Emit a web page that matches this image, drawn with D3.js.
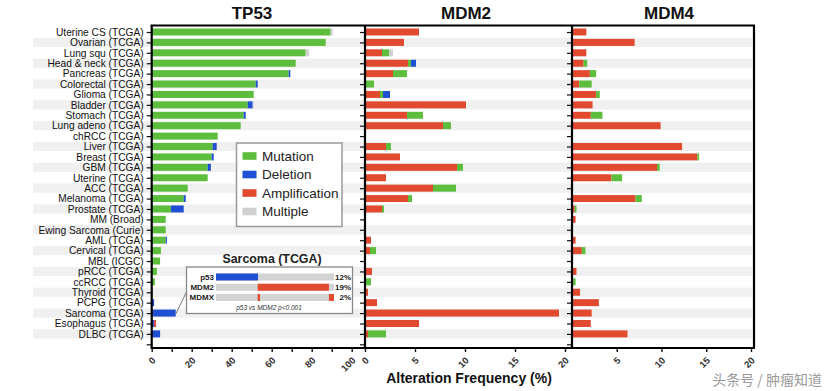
<!DOCTYPE html>
<html><head><meta charset="utf-8">
<script src="https://cdn.jsdelivr.net/npm/d3@7/dist/d3.min.js"></script>
<style>
html,body{margin:0;padding:0;background:#fff;}
svg{display:block;font-family:"Liberation Sans",Arial,sans-serif;}
</style></head>
<body><svg id="c" width="829" height="391"></svg>
<script>
// ---------------- DATA ----------------
const categories = ["Uterine CS (TCGA)","Ovarian (TCGA)","Lung squ (TCGA)","Head & neck (TCGA)","Pancreas (TCGA)",
 "Colorectal (TCGA)","Glioma (TCGA)","Bladder (TCGA)","Stomach (TCGA)","Lung adeno (TCGA)","chRCC (TCGA)",
 "Liver (TCGA)","Breast (TCGA)","GBM (TCGA)","Uterine (TCGA)","ACC (TCGA)","Melanoma (TCGA)","Prostate (TCGA)",
 "MM (Broad)","Ewing Sarcoma (Curie)","AML (TCGA)","Cervical (TCGA)","MBL (ICGC)","pRCC (TCGA)","ccRCC (TCGA)",
 "Thyroid (TCGA)","PCPG (TCGA)","Sarcoma (TCGA)","Esophagus (TCGA)","DLBC (TCGA)"];
const alterationTypes = ["Mutation","Deletion","Amplification","Multiple"];
const genes = ["TP53","MDM2","MDM4"];

const tp53Mutation      = [89.5,87,77,72,68.5,52,51,48,46,44.5,33,30.5,30,28,28,18,16,9.6,7,7,7,4.6,4.2,2.6,1.6,0.4,0,0,0,0];
const tp53Deletion      = [0,0,0,0,0.8,1,0,2.5,1,0,0,2,1,1.6,0,0,1,6.4,0,0,0.6,0,0,0,0,0,1.2,12,1.2,4.2];
const tp53Amplification = [0,0,0,0,0,0,0,0,0,0,0,0,0,0,0,0,0,0,0,0,0,0,0,0,0,0,0,0,1.0,0];
const tp53Multiple      = [1,0,1.7,0,0,0,0,0.5,0,0,0,0,0,0,0,0,0,0,0,0,0,0,0,0,0,0,0,0,0,0];

const mdm2Amplification = [5.4,3.9,1.7,4.3,2.8,0,1.5,10.1,4.2,7.8,0,2.1,3.5,9.2,2.1,6.8,4.3,1.7,0,0,0.6,0.5,0,0.7,0,0.3,1.2,19.4,5.4,0.3];
const mdm2Mutation      = [0,0,0.7,0.3,1.4,0.9,0.3,0,1.6,0.8,0,0.5,0,0.6,0,2.3,0.4,0.2,0,0,0,0.6,0,0,0.6,0,0,0,0,1.8];
const mdm2Deletion      = [0,0,0,0.5,0,0,0.7,0,0,0,0,0,0,0,0,0,0,0,0,0,0,0,0,0,0,0,0,0,0,0];
const mdm2Multiple      = [0,0,0.4,0,0,0,0,0,0,0,0,0,0,0,0,0,0,0,0,0,0,0,0,0,0,0,0,0,0,0];

const mdm4Amplification = [1.6,7.0,1.6,1.3,2.0,0.8,2.7,2.3,2.1,9.9,0,12.3,14.0,9.5,4.4,0,7.1,0.3,0.4,0,0.4,1.1,0,0.5,0,0.9,3.0,2.2,2.1,6.2];
const mdm4Mutation      = [0,0,0,0.4,0.7,1.4,0.4,0,1.3,0,0,0,0.2,0.3,1.2,0,0.7,0.2,0,0,0,0.4,0,0,0.4,0,0,0,0,0];
const mdm4Deletion      = new Array(30).fill(0);
const mdm4Multiple      = new Array(30).fill(0);

const tp53Ticks = [0,10,20,30,40,50,60,70,80,90,100];
const tp53TickLabels = [0,20,40,60,80,100];
const mdm2Ticks = [0,5,10,15,20];
const mdm4Ticks = [5,10,15,20];
const xAxisTitle = "Alteration Frequency (%)";

// inset (Sarcoma TCGA) — segment positions as fraction of samples
const insetGenes = ["p53","MDM2","MDMX"];
const insetPercent = ["12%","19%","2%"];
const insetSegments = [
  [{type:"Deletion",start:0,end:0.356}],
  [{type:"Amplification",start:0.353,end:0.957}],
  [{type:"Amplification",start:0.353,end:0.373},{type:"Amplification",start:0.957,end:1.0}]
];
const insetTitle = "Sarcoma (TCGA)";
const insetNote = "p53 vs MDM2 p<0.001";
const watermark = "头条号 / 肿瘤知道";

// ---------------- STYLE ----------------
const colors = {Mutation:"#5dbd3c",Deletion:"#1f4fd2",Amplification:"#e24a30",Multiple:"#d0d0d0"};
const svg = d3.select("#c");
const yTop = 32, yBot = 344.3, frameTop = 25.5, frameBot = 348;
const rowKeys = categories.concat([""]);
const y = d3.scalePoint().domain(rowKeys).range([yTop,yBot]);
const barH = 7;

// stripes
svg.append("g").selectAll("rect")
  .data(categories.filter((d,i)=>i%2===1))
  .join("rect")
  .attr("x",33).attr("width",752-33)
  .attr("y",d=>y(d)-4.6).attr("height",9.2)
  .attr("fill","#f0f0f0");

const panels = [
  {gene:"TP53", r:[151.7,351.7], dom:[0,100], ticks:tp53Ticks, labelTicks:tp53TickLabels,
   order:["Mutation","Deletion","Amplification","Multiple"],
   data:{Mutation:tp53Mutation,Deletion:tp53Deletion,Amplification:tp53Amplification,Multiple:tp53Multiple}, titleX:252},
  {gene:"MDM2", r:[365,565], dom:[0,20], ticks:mdm2Ticks, labelTicks:mdm2Ticks,
   order:["Amplification","Mutation","Deletion","Multiple"],
   data:{Mutation:mdm2Mutation,Deletion:mdm2Deletion,Amplification:mdm2Amplification,Multiple:mdm2Multiple}, titleX:466},
  {gene:"MDM4", r:[572,751], dom:[0,20], ticks:mdm4Ticks, labelTicks:mdm4Ticks,
   order:["Amplification","Mutation","Deletion","Multiple"],
   data:{Mutation:mdm4Mutation,Deletion:mdm4Deletion,Amplification:mdm4Amplification,Multiple:mdm4Multiple}, titleX:669}
];

panels.forEach((p,pi)=>{
  const x = d3.scaleLinear().domain(p.dom).range(p.r);
  const rows = categories.map((c,i)=>{const o={cat:c}; alterationTypes.forEach(t=>o[t]=p.data[t][i]); return o;});
  const stack = d3.stack().keys(p.order)(rows);
  const g = svg.append("g");
  stack.forEach(layer=>{
    g.append("g").attr("fill",colors[layer.key]).selectAll("rect")
      .data(layer.filter(d=>d[1]-d[0]>0))
      .join("rect")
      .attr("x",d=>x(d[0])).attr("width",d=>x(d[1])-x(d[0]))
      .attr("y",d=>y(d.data.cat)-barH/2).attr("height",barH);
  });
  // y axis
  const ya = d3.axisLeft(y).tickSize(5).tickSizeOuter(0).tickPadding(3)
    .tickFormat(d=> pi===0 ? d : "");
  const yg = svg.append("g").attr("transform",`translate(${p.r[0]},0)`).call(ya);
  yg.select(".domain").remove();
  yg.selectAll(".tick line").attr("stroke","#111").attr("stroke-width",1.2);
  yg.selectAll("text").attr("font-size","10.2px").attr("fill","#111")
    .attr("font-family","'Liberation Sans',Arial,sans-serif");
  svg.append("line").attr("x1",p.r[0]).attr("x2",p.r[0]).attr("y1",frameTop).attr("y2",frameBot)
    .attr("stroke","#000").attr("stroke-width",2.2);
  // x axis
  const xa = d3.axisBottom(x).tickValues(p.ticks).tickSize(4).tickSizeOuter(0)
    .tickFormat(d=> p.labelTicks.includes(d) ? d : "");
  const xg = svg.append("g").attr("transform",`translate(0,${frameBot})`).call(xa);
  xg.select(".domain").remove();
  xg.selectAll(".tick line").attr("stroke","#111").attr("stroke-width",1.4);
  xg.selectAll("text").attr("font-size","9.5px").attr("font-weight","bold").attr("fill","#333")
    .attr("font-family","'Liberation Sans',Arial,sans-serif")
    .attr("text-anchor","end").attr("y",0).attr("dy",0)
    .attr("transform","translate(4,13) rotate(-45)");
  // title
  svg.append("text").attr("x",p.titleX).attr("y",19).attr("text-anchor","middle")
    .attr("font-size","17px").attr("font-weight","bold").attr("fill","#111").text(p.gene);
});

// frame
svg.append("line").attr("x1",150.6).attr("x2",755).attr("y1",frameTop).attr("y2",frameTop).attr("stroke","#000").attr("stroke-width",2.2);
svg.append("line").attr("x1",150.6).attr("x2",755).attr("y1",frameBot).attr("y2",frameBot).attr("stroke","#000").attr("stroke-width",2.2);
svg.append("line").attr("x1",754).attr("x2",754).attr("y1",frameTop).attr("y2",frameBot).attr("stroke","#000").attr("stroke-width",2.2);

// x axis title
svg.append("text").attr("x",469).attr("y",383).attr("text-anchor","middle")
  .attr("font-size","14px").attr("font-weight","bold").attr("fill","#111").text(xAxisTitle);

// legend
const lg = svg.append("g");
lg.append("rect").attr("x",236.5).attr("y",143).attr("width",105.5).attr("height",83.5)
  .attr("fill","#fff").attr("stroke","#9a9a9a").attr("stroke-width",1.5);
alterationTypes.forEach((t,i)=>{
  const cy = 156 + i*18.5;
  lg.append("rect").attr("x",242.5).attr("y",cy-3.8).attr("width",14).attr("height",7.6).attr("fill",colors[t]);
  lg.append("text").attr("x",262).attr("y",cy).attr("dy","0.36em").attr("font-size","13.5px").attr("fill","#222").text(t);
});

// connector + inset
const xTP = d3.scaleLinear().domain([0,100]).range([151.7,351.7]);
const sarcIdx = categories.indexOf("Sarcoma (TCGA)");
svg.append("line").attr("x1",xTP(tp53Deletion[sarcIdx])).attr("y1",y("Sarcoma (TCGA)")+1)
  .attr("x2",186.5).attr("y2",292).attr("stroke","#777").attr("stroke-width",1);
const ig = svg.append("g");
ig.append("text").attr("x",272).attr("y",263).attr("text-anchor","middle")
  .attr("font-size","12.4px").attr("font-weight","bold").attr("fill","#222").text(insetTitle);
ig.append("rect").attr("x",186.5).attr("y",267).attr("width",166).attr("height",46.5)
  .attr("fill","#fff").attr("stroke","#888").attr("stroke-width",1.3);
const ix = d3.scaleLinear().domain([0,1]).range([216,334]);
const iy = d3.scalePoint().domain(insetGenes).range([277,297.5]);
insetGenes.forEach((gname,i)=>{
  const cy = iy(gname);
  ig.append("rect").attr("x",ix(0)).attr("width",ix(1)-ix(0)).attr("y",cy-3.5).attr("height",7).attr("fill","#d3d3d3");
  insetSegments[i].forEach(s=>{
    ig.append("rect").attr("x",ix(s.start)).attr("width",ix(s.end)-ix(s.start)).attr("y",cy-3.5).attr("height",7).attr("fill",colors[s.type]);
  });
  ig.append("text").attr("x",214).attr("y",cy).attr("dy","0.35em").attr("text-anchor","end")
    .attr("font-size","8px").attr("font-weight","bold").attr("fill","#222").text(gname);
  ig.append("text").attr("x",351).attr("y",cy).attr("dy","0.35em").attr("text-anchor","end")
    .attr("font-size","8px").attr("font-weight","bold").attr("fill","#222").text(insetPercent[i]);
});
ig.append("text").attr("x",269).attr("y",309.5).attr("text-anchor","middle")
  .attr("font-size","6.5px").attr("font-style","italic").attr("fill","#333").text(insetNote);

// watermark
svg.append("text").attr("x",822).attr("y",385).attr("text-anchor","end")
  .attr("font-family","'Noto Sans CJK SC',sans-serif").attr("font-size","14px").attr("fill","#9a9a9a").text(watermark);
</script></body></html>
